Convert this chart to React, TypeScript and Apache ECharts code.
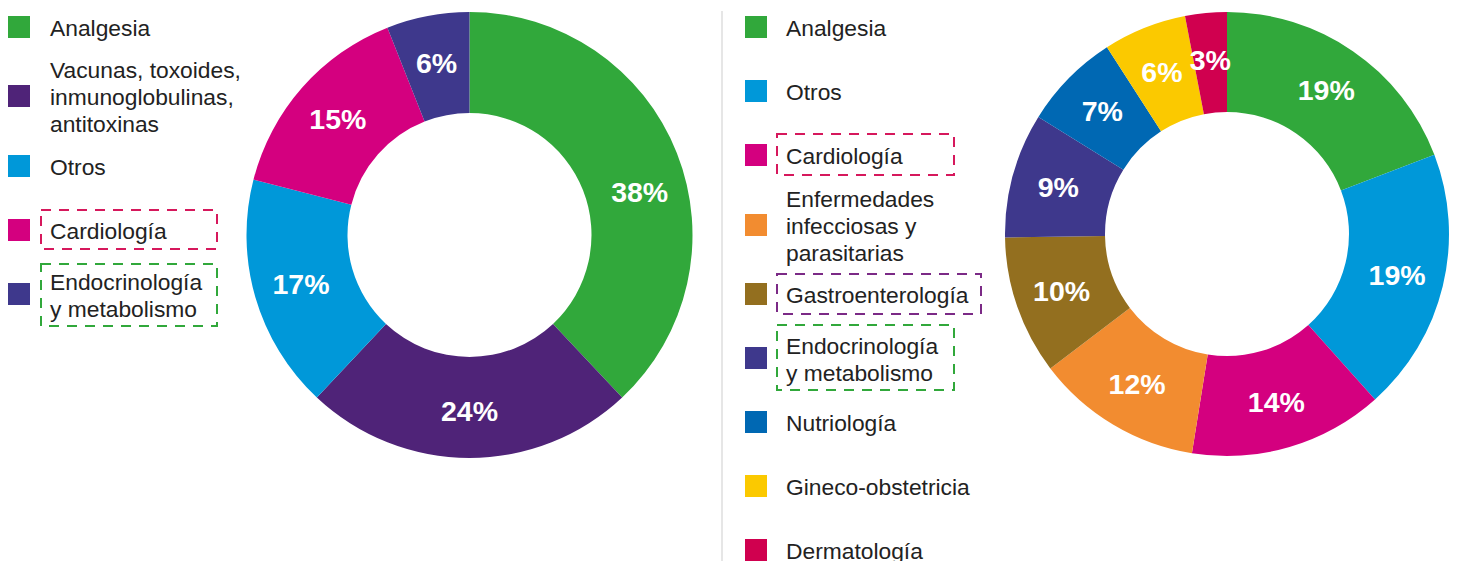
import React, { useEffect, useRef } from "react";
import * as echarts from "echarts";

const leftCategories = [
  "Analgesia",
  "Vacunas, toxoides,\ninmunoglobulinas,\nantitoxinas",
  "Otros",
  "Cardiología",
  "Endocrinología\ny metabolismo",
];
const leftValues = [38, 24, 17, 15, 6];
const leftColors = ["#31a83b", "#4f2378", "#0098d9", "#d4007f", "#3e388c"];

const rightCategories = [
  "Analgesia",
  "Otros",
  "Cardiología",
  "Enfermedades\ninfecciosas y\nparasitarias",
  "Gastroenterología",
  "Endocrinología\ny metabolismo",
  "Nutriología",
  "Gineco-obstetricia",
  "Dermatología",
];
const rightValues = [19, 19, 14, 12, 10, 9, 7, 6, 3];
const rightColors = [
  "#31a83b",
  "#0098d9",
  "#d4007f",
  "#f28c30",
  "#936f1f",
  "#3e388c",
  "#0068b3",
  "#fbc900",
  "#d0004f",
];

// layout of legend rows (vertical centers)
const leftLegendY = [27, 96, 166, 230, 294];
const rightLegendY = [27, 91, 155, 225, 294, 358, 422, 486, 550];

const FONT = "'Liberation Sans', Arial, sans-serif";
const LEGEND_FONT = "'Liberation Sans', Arial, sans-serif";

function legendItems(
  names: string[],
  colors: string[],
  ys: number[],
  sqX: number,
  textX: number
) {
  const els: any[] = [];
  names.forEach((n, i) => {
    els.push({
      type: "rect",
      shape: { x: sqX, y: ys[i] - 11, width: 22, height: 22 },
      style: { fill: colors[i] },
    });
    els.push({
      type: "text",
      x: textX,
      y: ys[i] + 1,
      style: {
        text: n,
        font: `22.8px ${LEGEND_FONT}`,
        fill: "#222222",
        textVerticalAlign: "middle",
        textAlign: "left",
        lineHeight: 27,
      },
    });
  });
  return els;
}

function dashedBox(x: number, y: number, w: number, h: number, color: string) {
  return {
    type: "rect",
    shape: { x, y, width: w, height: h },
    style: { fill: "none", stroke: color, lineWidth: 2, lineDash: [10, 8] },
  };
}

export default function App() {
  const ref = useRef<HTMLDivElement>(null);
  useEffect(() => {
    document.body.style.margin = "0";
    if (!ref.current) return;
    const chart = echarts.init(ref.current, undefined, { renderer: "svg" });
    const labelStyle = {
      show: true,
      position: "inside",
      formatter: "{c}%",
      color: "#ffffff",
      fontWeight: "bold",
      fontSize: 28.5,
      fontFamily: FONT,
    };
    chart.setOption({
      animation: false,
      backgroundColor: "#ffffff",
      series: [
        {
          type: "pie",
          center: [469.5, 235],
          radius: [122, 223],
          startAngle: 90,
          clockwise: true,
          avoidLabelOverlap: false,
          label: labelStyle,
          labelLine: { show: false },
          emphasis: { disabled: true },
          data: leftValues.map((v, i) => ({
            value: v,
            name: leftCategories[i],
            itemStyle: { color: leftColors[i] },
            ...(i === 0 ? { label: { offset: [7, 22] } } : {}),
          })),
        },
        {
          type: "pie",
          center: [1227, 234],
          radius: [122, 222],
          startAngle: 90,
          clockwise: true,
          avoidLabelOverlap: false,
          label: labelStyle,
          labelLine: { show: false },
          emphasis: { disabled: true },
          data: rightValues.map((v, i) => ({
            value: v,
            name: rightCategories[i],
            itemStyle: { color: rightColors[i] },
          })),
        },
      ],
      graphic: [
        {
          type: "line",
          shape: { x1: 722, y1: 11, x2: 722, y2: 561 },
          style: { stroke: "#e6e6e6", lineWidth: 2 },
        },
        ...legendItems(leftCategories, leftColors, leftLegendY, 8, 50),
        ...legendItems(rightCategories, rightColors, rightLegendY, 745, 786),
        dashedBox(41, 210, 176, 39, "#d6185c"),
        dashedBox(41, 264, 176, 62, "#31a83b"),
        dashedBox(777, 134, 177, 41, "#d6185c"),
        dashedBox(777, 274, 204, 40, "#7b2a86"),
        dashedBox(777, 325, 177, 65, "#31a83b"),
      ],
    });
    return () => chart.dispose();
  }, []);
  return <div ref={ref} style={{ width: 1458, height: 561 }} />;
}
